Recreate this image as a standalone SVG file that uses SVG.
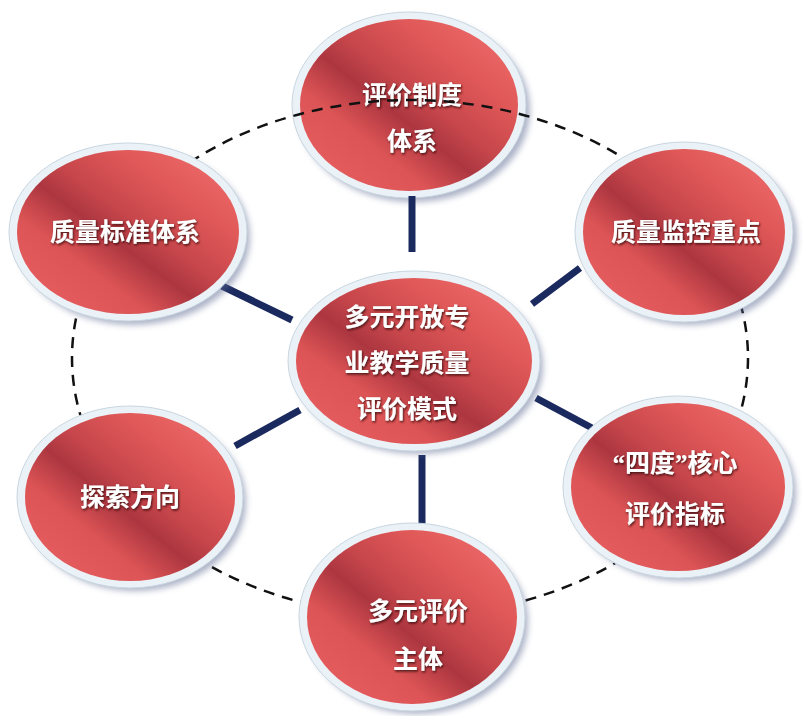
<svg xmlns="http://www.w3.org/2000/svg" width="803" height="716" viewBox="0 0 803 716">
<defs>
<linearGradient id="red" x1="0.1" y1="0.9" x2="0.9" y2="0.1">
<stop offset="0" stop-color="#e65d5f"/>
<stop offset="0.25" stop-color="#dc5455"/>
<stop offset="0.43" stop-color="#ac3640"/>
<stop offset="0.56" stop-color="#c6464b"/>
<stop offset="0.78" stop-color="#e05858"/>
<stop offset="1" stop-color="#ec6868"/>
</linearGradient>
<filter id="sh" x="-20%" y="-20%" width="140%" height="140%">
<feGaussianBlur stdDeviation="3"/>
</filter>
<filter id="ts" x="-10%" y="-30%" width="120%" height="160%">
<feDropShadow dx="1" dy="1.5" stdDeviation="0.8" flood-color="#3a0a10" flood-opacity="0.9"/>
</filter>
<style>
.shadow{fill:#5a6890;opacity:0.5;filter:url(#sh)}
.rim{fill:#eaf2f7;stroke:#c9d6e0;stroke-width:1}
.core{fill:url(#red)}
.lbl{font-family:"Noto Sans CJK SC","Noto Sans CJK TC",sans-serif;font-weight:bold;font-size:25px;fill:#ffffff;text-anchor:middle;filter:url(#ts)}
.q{font-family:"Liberation Serif",serif}
.conn{stroke:#1b2a5e;stroke-width:7;fill:none}
.dash{fill:none;stroke:#111;stroke-width:2.5;stroke-dasharray:11 8}
</style>
</defs>
<rect width="803" height="716" fill="#ffffff"/>

<g id="node-top">
<ellipse class="shadow" cx="414" cy="110" rx="116" ry="92"/>
<ellipse class="rim" cx="409" cy="105" rx="117" ry="93"/>
<ellipse class="core" cx="409" cy="105" rx="109" ry="86"/>
<text class="lbl" x="412" y="104">评价制度</text>
<text class="lbl" x="412" y="150">体系</text>
</g>

<ellipse class="dash" cx="410" cy="358" rx="338" ry="258"/>

<g id="connectors">
<line class="conn" x1="412" y1="196" x2="412" y2="252"/>
<line class="conn" x1="222" y1="286" x2="292" y2="320"/>
<line class="conn" x1="580" y1="268" x2="532" y2="304"/>
<line class="conn" x1="235" y1="446" x2="300" y2="410"/>
<line class="conn" x1="422" y1="455" x2="422" y2="528"/>
<line class="conn" x1="536" y1="398" x2="592" y2="428"/>
</g>

<g id="node-left-top">
<ellipse class="shadow" cx="133" cy="237" rx="117" ry="88"/>
<ellipse class="rim" cx="128" cy="232" rx="119" ry="89"/>
<ellipse class="core" cx="128" cy="232" rx="111" ry="82"/>
<text class="lbl" x="125" y="241">质量标准体系</text>
</g>

<g id="node-right-top">
<ellipse class="shadow" cx="689" cy="237" rx="108" ry="88"/>
<ellipse class="rim" cx="684" cy="232" rx="109" ry="90"/>
<ellipse class="core" cx="684" cy="232" rx="101" ry="83"/>
<text class="lbl" x="686" y="241">质量监控重点</text>
</g>

<g id="node-center">
<ellipse class="shadow" cx="419" cy="366" rx="124" ry="88"/>
<ellipse class="rim" cx="414" cy="361" rx="126" ry="90"/>
<ellipse class="core" cx="414" cy="361" rx="118" ry="83"/>
<text class="lbl" x="407" y="326">多元开放专</text>
<text class="lbl" x="407" y="372">业教学质量</text>
<text class="lbl" x="407" y="418">评价模式</text>
</g>

<g id="node-left-bottom">
<ellipse class="shadow" cx="135" cy="502" rx="111" ry="89"/>
<ellipse class="rim" cx="130" cy="497" rx="113" ry="91"/>
<ellipse class="core" cx="130" cy="497" rx="105" ry="84"/>
<text class="lbl" x="130" y="506">探索方向</text>
</g>

<g id="node-right-bottom">
<ellipse class="shadow" cx="683" cy="492" rx="113" ry="89"/>
<ellipse class="rim" cx="678" cy="487" rx="115" ry="91"/>
<ellipse class="core" cx="678" cy="487" rx="107" ry="84"/>
<text class="lbl" x="675" y="472"><tspan class="q">“</tspan>四度<tspan class="q">”</tspan>核心</text>
<text class="lbl" x="675" y="523">评价指标</text>
</g>

<g id="node-bottom">
<ellipse class="shadow" cx="417" cy="622" rx="111" ry="92"/>
<ellipse class="rim" cx="412" cy="617" rx="113" ry="94"/>
<ellipse class="core" cx="412" cy="617" rx="105" ry="87"/>
<text class="lbl" x="418" y="620">多元评价</text>
<text class="lbl" x="418" y="668">主体</text>
</g>
</svg>
